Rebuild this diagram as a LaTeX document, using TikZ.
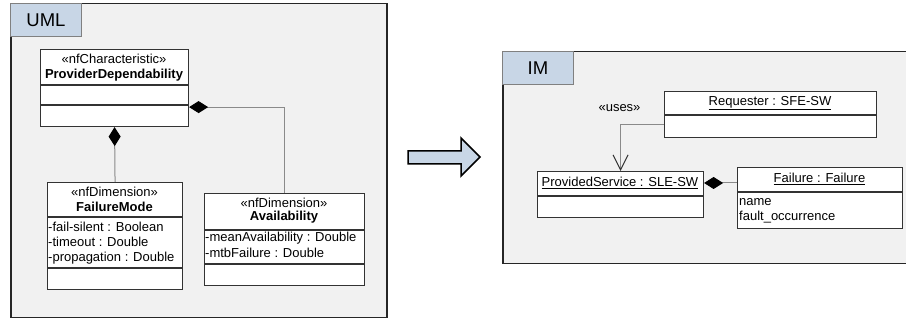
\documentclass[tikz,border=0pt]{standalone}
\usepackage{fontspec}
\setmainfont{Liberation Sans}
\usetikzlibrary{arrows.meta,calc}
\definecolor{framefill}{HTML}{F1F1F1}
\definecolor{tabfill}{HTML}{C8D6E6}
\definecolor{linegray}{HTML}{8A8A8A}
\definecolor{boxline}{HTML}{333333}
\begin{document}
\begin{tikzpicture}[x=1pt,y=-1pt,
  frame/.style={draw=black!85, line width=1.5pt, fill=framefill, anchor=north west, inner sep=0pt},
  tab/.style={draw=black!50, line width=1pt, fill=tabfill, anchor=north west, inner sep=0pt,
    font=\fontsize{18.5}{20}\selectfont},
  box/.style={draw=boxline, line width=1.1pt, fill=white, inner sep=0pt, anchor=north west},
  divider/.style={draw=boxline, line width=1.1pt},
  txt/.style={inner sep=0pt, font=\fontsize{13}{15}\selectfont},
  attr/.style={txt, anchor=west},
  comp/.style={draw=linegray, line width=1pt, {Diamond[length=19pt,width=12pt,fill=black,color=black]}-},
  dep/.style={draw=linegray, line width=1pt, -{Straight Barb[length=15pt,width=15pt,color=black!80]}},
  blockarrow/.style={draw=black, fill=tabfill, line width=1.5pt, line join=miter}
]
\useasboundingbox (0,0) rectangle (906,320);

% ---------- UML frame ----------
\node[frame, minimum width=376pt, minimum height=314pt] (umlframe) at (10,3) {};
\node[tab, minimum width=71pt, minimum height=33pt] (umltab) at (10,3) {UML};

% ProviderDependability
\node[box, minimum width=148pt, minimum height=77pt] (pd) at (40,49) {};
\draw[divider] (pd.west |- 0,85) -- (pd.east |- 0,85);
\draw[divider] (pd.west |- 0,105) -- (pd.east |- 0,105);
\node[txt] (pdst) at (114,59) {«nfCharacteristic»};
\node[txt] (pdname) at (114,75) {\bfseries ProviderDependability};

% FailureMode
\node[box, minimum width=135pt, minimum height=107pt] (fm) at (47,182) {};
\draw[divider] (fm.west |- 0,217) -- (fm.east |- 0,217);
\draw[divider] (fm.west |- 0,268) -- (fm.east |- 0,268);
\node[txt] (fmst) at (114.5,192) {«nfDimension»};
\node[txt] (fmname) at (114.5,207) {\bfseries FailureMode};
\node[attr] (fma1) at (48,227) {-fail-silent : Boolean};
\node[attr] (fma2) at (48,242) {-timeout : Double};
\node[attr] (fma3) at (48,258) {-propagation : Double};

% Availability
\node[box, minimum width=160pt, minimum height=92pt] (av) at (204,193) {};
\draw[divider] (av.west |- 0,230) -- (av.east |- 0,230);
\draw[divider] (av.west |- 0,264) -- (av.east |- 0,264);
\node[txt] (avst) at (284,203) {«nfDimension»};
\node[txt] (avname) at (284,217.5) {\bfseries Availability};
\node[attr] (ava1) at (205,238) {-meanAvailability : Double};
\node[attr] (ava2) at (205,253) {-mtbFailure : Double};

% compositions
\draw[comp] (pd.south) -- (fm.north);
\draw[comp] ([yshift=20pt]pd.south east) -| (av.north);

% ---------- transformation arrow ----------
\draw[blockarrow] (408,151) -- (461,151) -- (461,138) -- (480,157) -- (461,176) -- (461,164) -- (408,164) -- cycle;

% ---------- IM frame ----------
\node[frame, minimum width=420pt, minimum height=212pt] (imframe) at (502,51) {};
\node[tab, minimum width=71pt, minimum height=33pt] (imtab) at (502,51) {IM};

% Requester
\node[box, minimum width=212pt, minimum height=46pt] (req) at (664,91) {};
\draw[divider] (req.west |- 0,115) -- (req.east |- 0,115);
\node[txt] (reqname) at (770,103) {\underline{Requester : SFE-SW}};

% ProvidedService
\node[box, minimum width=166pt, minimum height=46pt] (ps) at (537,171) {};
\draw[divider] (ps.west |- 0,196) -- (ps.east |- 0,196);
\node[txt] (psname) at (620,183) {\underline{ProvidedService : SLE-SW}};

% Failure
\node[box, minimum width=165pt, minimum height=61pt] (fail) at (737,167) {};
\draw[divider] (fail.west |- 0,192) -- (fail.east |- 0,192);
\node[txt] (failname) at (819.5,179) {\underline{Failure : Failure}};
\node[attr] (faila1) at (739,202) {name};
\node[attr] (faila2) at (739,217) {fault\_occurrence};

% uses dependency
\node[txt] (uses) at (619.5,108) {«uses»};
\draw[dep] (req.west |- 0,125) -| (ps.north);

% composition
\draw[comp] ([yshift=-12pt]ps.north east) -- (fail.west |- 0,183);
\end{tikzpicture}
\end{document}
